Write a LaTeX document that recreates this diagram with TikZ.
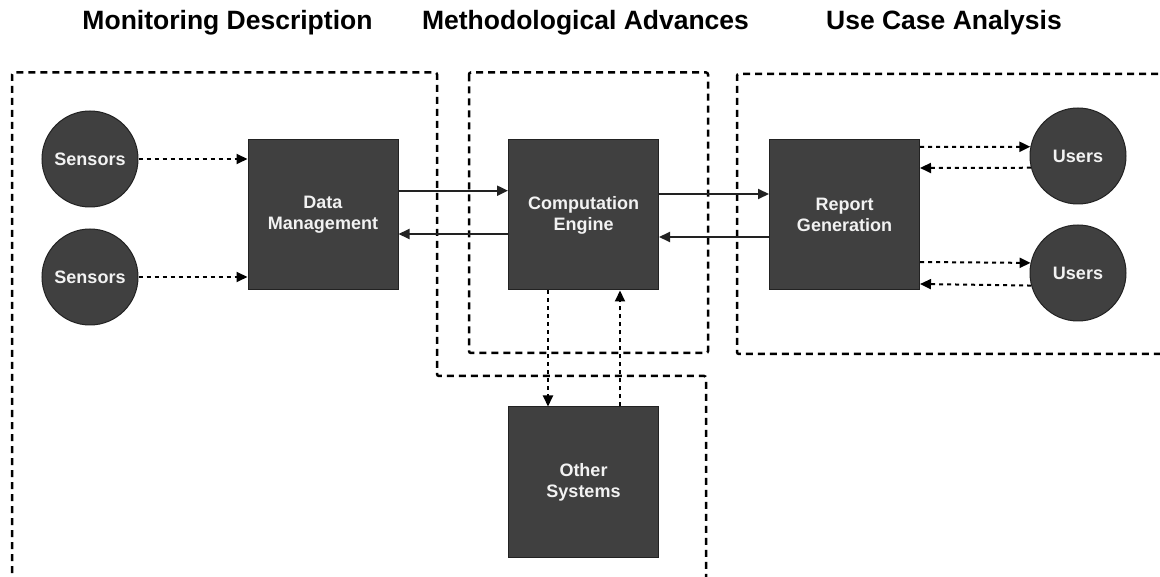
\documentclass[tikz,border=0pt]{standalone}
\usepackage{fontspec}
\setmainfont{Liberation Sans}
\usetikzlibrary{arrows.meta}
\definecolor{boxfill}{HTML}{404040}
\definecolor{boxline}{HTML}{222222}
\definecolor{boxtext}{HTML}{F2F2F2}
\definecolor{wire}{HTML}{222222}
\tikzset{
  block/.style={rectangle, fill=boxfill, draw=boxline, line width=1pt,
    minimum width=150pt, minimum height=150pt, inner sep=0pt,
    text=boxtext, align=center, font=\fontsize{18}{21}\selectfont\bfseries},
  actor/.style={circle, fill=boxfill, draw=boxline, line width=1pt,
    minimum size=96pt, inner sep=0pt,
    text=boxtext, font=\fontsize{18}{21}\selectfont\bfseries},
  heading/.style={font=\fontsize{26.5}{30}\selectfont\bfseries, text=black},
  region/.style={draw=black, line width=2.5pt, dash pattern=on 7pt off 5pt, rounded corners=2pt},
  flow/.style={draw=wire, line width=2pt, -{Triangle[length=11pt,width=10pt]}},
  dotflow/.style={draw=black, line width=2pt, dash pattern=on 4pt off 4pt,
    -{Triangle[length=11pt,width=10pt]}}
}
\begin{document}
\begin{tikzpicture}[x=1pt,y=-1pt]
\useasboundingbox (0,0) rectangle (1160,577);

% headings
\node[heading] (h1) at (227.5,23) {Monitoring Description};
\node[heading] (h2) at (585.5,23) {Methodological Advances};
\node[heading] (h3) at (944,23) {Use Case Analysis};

% dashed regions
\draw[region] (12,585) -- (12,72.5) -- (437,72.5) -- (437,376) -- (706,376) -- (706,585);
\draw[region] (469,72.5) rectangle (708,353);
\draw[region] (1170,74) -- (737,74) -- (737,354) -- (1170,354);

% blocks
\node[block] (dm) at (323,215) {Data\\Management};
\node[block] (ce) at (583.5,215) {Computation\\Engine};
\node[block] (rg) at (844.5,215) {Report\\Generation};
\node[block] (os) at (583.5,482) {Other\\Systems};

% sources and users
\node[actor] (s1) at (90,159) {Sensors};
\node[actor] (s2) at (90,277) {Sensors};
\node[actor] (u1) at (1078,156) {Users};
\node[actor] (u2) at (1078,273) {Users};

% sensor inputs
\draw[dotflow] (s1.east) -- (s1.east -| dm.west);
\draw[dotflow] (s2.east) -- (s2.east -| dm.west);

% main data path
\draw[flow] ([yshift=24.3pt]dm.east) -- ([yshift=24.3pt]ce.west);
\draw[flow] ([yshift=-19pt]ce.west) -- ([yshift=-19pt]dm.east);
\draw[flow] ([yshift=21pt]ce.east) -- ([yshift=21pt]rg.west);
\draw[flow] ([yshift=-22pt]rg.west) -- ([yshift=-22pt]ce.east);

% reports to users and feedback
\draw[dotflow] ([yshift=68pt]rg.east) -- (u1.169);
\draw[dotflow] (u1.194.5) -- ([yshift=47pt]rg.east);
\draw[dotflow] ([yshift=-47pt]rg.east) -- (u2.168.5);
\draw[dotflow] (u2.195) -- ([yshift=-69pt]rg.east);

% exchange with other systems
\draw[dotflow] ([xshift=-35.5pt]ce.south) -- ([xshift=-35.5pt]os.north);
\draw[dotflow] ([xshift=36.5pt]os.north) -- ([xshift=36.5pt]ce.south);
\end{tikzpicture}
\end{document}
